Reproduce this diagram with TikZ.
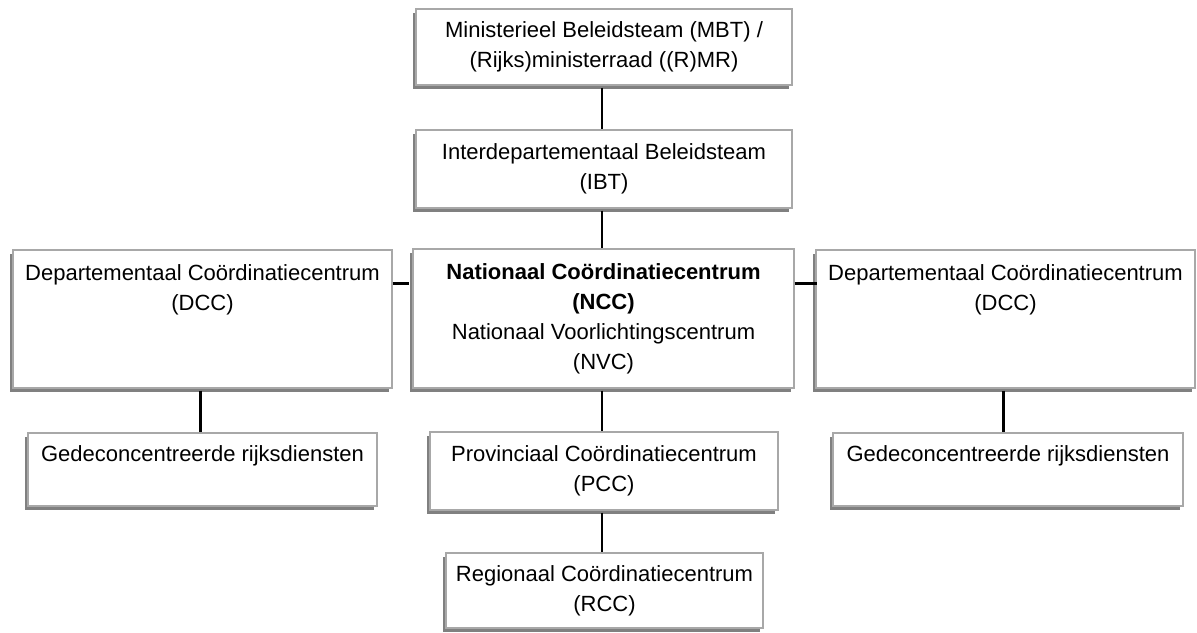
\documentclass[tikz,border=0pt]{standalone}
\usepackage{fontspec}
\setmainfont{Liberation Sans}
\usetikzlibrary{calc}
\definecolor{boxgray}{HTML}{A8A8A8}
\definecolor{shadowgray}{HTML}{808080}
\begin{document}
\begin{tikzpicture}[x=1pt,y=-1pt,
  box/.style={draw=boxgray, line width=1.2pt, fill=white, inner sep=0pt, align=center,
    font=\fontsize{22}{30}\selectfont,
    preaction={fill=shadowgray, transform canvas={xshift=-3.5pt,yshift=-3.5pt}}},
  thin/.style={draw=black, line width=1.3pt},
  thick/.style={draw=black, line width=3pt}]
\useasboundingbox (0,0) rectangle (1197,632);
\node[box, minimum width=376pt, minimum height=76pt] (mbt) at (604,47)
  {Ministerieel Beleidsteam (MBT) /\\(Rijks)ministerraad ((R)MR)};
\node[box, minimum width=376pt, minimum height=78pt] (ibt) at (604,169)
  {Interdepartementaal Beleidsteam\\(IBT)};
\node[box, minimum width=381pt, minimum height=139pt] (ncc) at (603.5,318.5)
  {\textbf{Nationaal Coördinatiecentrum}\\\textbf{(NCC)}\\Nationaal Voorlichtingscentrum\\(NVC)};
\node[box, minimum width=379pt, minimum height=138pt] (ldcc) at (202.5,319)
  {\parbox[c][138pt][t]{379pt}{\centering\vspace{15pt}Departementaal Coördinatiecentrum\\(DCC)}};
\node[box, minimum width=379pt, minimum height=138pt] (rdcc) at (1005.5,319)
  {\parbox[c][138pt][t]{379pt}{\centering\vspace{15pt}Departementaal Coördinatiecentrum\\(DCC)}};
\node[box, minimum width=349pt, minimum height=73pt] (lged) at (202.5,469.5)
  {\parbox[c][73pt][t]{349pt}{\centering\vspace{13pt}Gedeconcentreerde rijksdiensten}};
\node[box, minimum width=350pt, minimum height=73pt] (rged) at (1008,469.5)
  {\parbox[c][73pt][t]{350pt}{\centering\vspace{13pt}Gedeconcentreerde rijksdiensten}};
\node[box, minimum width=348pt, minimum height=78pt] (pcc) at (604,471)
  {Provinciaal Coördinatiecentrum\\(PCC)};
\node[box, minimum width=317pt, minimum height=75pt] (rcc) at (604.5,590.5)
  {Regionaal Coördinatiecentrum\\(RCC)};
\coordinate (hl) at (0,283);
\draw[thin] ($(mbt.south)+(-2,2)$) -- ($(ibt.north)+(-2,0)$);
\draw[thin] ($(ibt.south)+(-2,2)$) -- ($(ncc.north)+(-1.5,0)$);
\draw[thin] ($(ncc.south)+(-1.5,2)$) -- ($(pcc.north)+(-2,0)$);
\draw[thin] ($(pcc.south)+(-2,2)$) -- ($(rcc.north)+(-2.5,0)$);
\draw[thick] (ldcc.east |- hl) -- ($(ncc.west |- hl)+(-3,0)$);
\draw[thick] (ncc.east |- hl) -- ($(rdcc.east |- hl)+(-379,0)$);
\draw[thick] ($(ldcc.south)+(-2.5,2)$) -- ($(lged.north)+(-2.5,0)$);
\draw[thick] ($(rdcc.south)+(-2.5,2)$) -- ($(rged.north)+(-5,0)$);
\end{tikzpicture}
\end{document}
